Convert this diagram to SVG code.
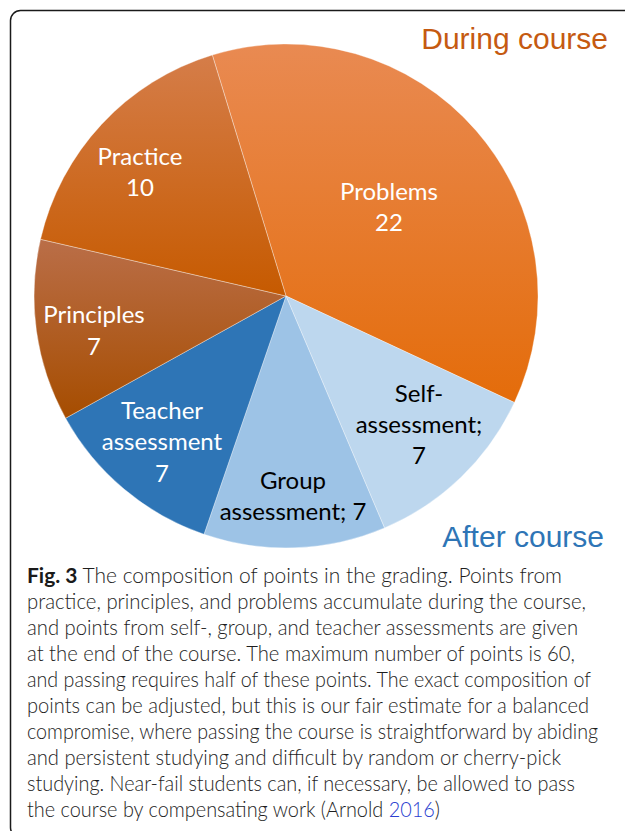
<svg xmlns="http://www.w3.org/2000/svg" width="625" height="831" viewBox="0 0 625 831">
<style>
.lbl{font-family:Lato,"Open Sans","Liberation Sans",sans-serif;font-size:24px;text-anchor:middle}
.w{fill:#ffffff}
.k{fill:#000000}
.ttl{font-family:"Liberation Sans",Arial,sans-serif;font-size:30px}
.cap{font-family:Lato,"Open Sans","Liberation Sans",sans-serif;font-size:21px;font-weight:300;fill:#1e1e1e}
.sep{stroke:#ffffff;stroke-opacity:0.35;stroke-width:1}
</style>
<defs>
<linearGradient id="gProb" x1="0" y1="0" x2="0" y2="1"><stop offset="0" stop-color="#E98A52"/><stop offset="1" stop-color="#E46C0A"/></linearGradient>
<linearGradient id="gPrac" x1="0" y1="0" x2="0" y2="1"><stop offset="0" stop-color="#D57D49"/><stop offset="1" stop-color="#C65A00"/></linearGradient>
<linearGradient id="gPrin" x1="0" y1="0" x2="0" y2="1"><stop offset="0" stop-color="#BA6E48"/><stop offset="1" stop-color="#A64D00"/></linearGradient>
</defs>
<rect x="10.5" y="10.5" width="700" height="827" rx="10" fill="none" stroke="#1a1a1a" stroke-width="1.5"/>
<g id="problems">
<path class="sep" d="M286 296 L212.3 55 A252 252 0 0 1 514.4 402.5 Z" fill="url(#gProb)"/>
<text class="lbl w" x="389" y="200">Problems</text>
<text class="lbl w" x="389" y="231">22</text>
</g>
<g id="self-assessment">
<path class="sep" d="M286 296 L514.4 402.5 A252 252 0 0 1 384.5 527.9 Z" fill="#BDD7EE"/>
<text class="lbl k" x="419" y="402">Self-</text>
<text class="lbl k" x="419" y="433">assessment;</text>
<text class="lbl k" x="419" y="464">7</text>
</g>
<g id="group-assessment">
<path class="sep" d="M286 296 L384.5 527.9 A252 252 0 0 1 204 534.3 Z" fill="#9DC3E6"/>
<text class="lbl k" x="293" y="489">Group</text>
<text class="lbl k" x="293" y="520">assessment; 7</text>
</g>
<g id="teacher-assessment">
<path class="sep" d="M286 296 L204 534.3 A252 252 0 0 1 65.6 418.2 Z" fill="#2E75B6"/>
<text class="lbl w" x="162" y="419">Teacher</text>
<text class="lbl w" x="162" y="450">assessment</text>
<text class="lbl w" x="162" y="482">7</text>
</g>
<g id="principles">
<path class="sep" d="M286 296 L65.6 418.2 A252 252 0 0 1 40.5 239.3 Z" fill="url(#gPrin)"/>
<text class="lbl w" x="94" y="323">Principles</text>
<text class="lbl w" x="94" y="355">7</text>
</g>
<g id="practice">
<path class="sep" d="M286 296 L40.5 239.3 A252 252 0 0 1 212.3 55 Z" fill="url(#gPrac)"/>
<text class="lbl w" x="140" y="165">Practice</text>
<text class="lbl w" x="140" y="196">10</text>
</g>
<g id="titles">
<text class="ttl" x="608" y="49" text-anchor="end" fill="#C55A11">During course</text>
<text class="ttl" x="604" y="547" text-anchor="end" fill="#2E75B6">After course</text>
</g>
<g id="caption">
<text class="cap" x="27" y="583" textLength="535" lengthAdjust="spacingAndGlyphs"><tspan font-weight="bold" fill="#1a1a1a">Fig. 3</tspan> The composition of points in the grading. Points from</text>
<text class="cap" x="27" y="609" textLength="559" lengthAdjust="spacingAndGlyphs">practice, principles, and problems accumulate during the course,</text>
<text class="cap" x="27" y="635" textLength="551" lengthAdjust="spacingAndGlyphs">and points from self-, group, and teacher assessments are given</text>
<text class="cap" x="27" y="661" textLength="548" lengthAdjust="spacingAndGlyphs">at the end of the course. The maximum number of points is 60,</text>
<text class="cap" x="27" y="687" textLength="564" lengthAdjust="spacingAndGlyphs">and passing requires half of these points. The exact composition of</text>
<text class="cap" x="27" y="713" textLength="562" lengthAdjust="spacingAndGlyphs">points can be adjusted, but this is our fair estimate for a balanced</text>
<text class="cap" x="27" y="739" textLength="571" lengthAdjust="spacingAndGlyphs">compromise, where passing the course is straightforward by abiding</text>
<text class="cap" x="27" y="765" textLength="534" lengthAdjust="spacingAndGlyphs">and persistent studying and difficult by random or cherry-pick</text>
<text class="cap" x="27" y="791" textLength="548" lengthAdjust="spacingAndGlyphs">studying. Near-fail students can, if necessary, be allowed to pass</text>
<text class="cap" x="27" y="817" textLength="413" lengthAdjust="spacingAndGlyphs">the course by compensating work (Arnold <tspan fill="#2B3FD0">2016</tspan>)</text>
</g>
</svg>
